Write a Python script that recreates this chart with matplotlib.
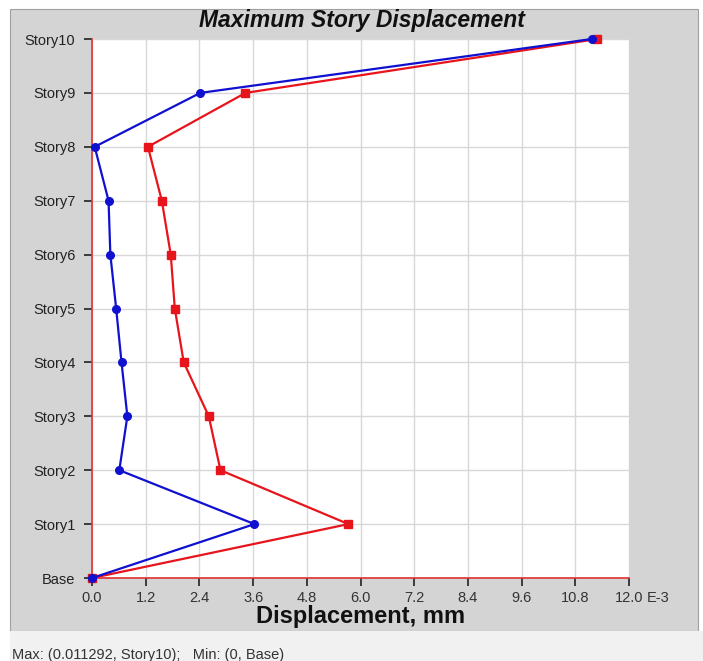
import matplotlib.pyplot as plt
from matplotlib.patches import Rectangle

plt.rcParams["font.family"] = ["Liberation Sans", "DejaVu Sans"]

# Story levels and peak displacements (values in units of 1E-3 mm)
stories = ["Base", "Story1", "Story2", "Story3", "Story4", "Story5",
           "Story6", "Story7", "Story8", "Story9", "Story10"]
disp_x = [0.0, 3.63, 0.61, 0.79, 0.66, 0.54, 0.41, 0.37, 0.06, 2.42, 11.17]
disp_y = [0.0, 5.73, 2.87, 2.61, 2.05, 1.85, 1.76, 1.56, 1.25, 3.43, 11.292]
xticks = [0.0, 1.2, 2.4, 3.6, 4.8, 6.0, 7.2, 8.4, 9.6, 10.8, 12.0]
xtick_labels = ["0.0", "1.2", "2.4", "3.6", "4.8", "6.0", "7.2", "8.4",
                "9.6", "10.8", "12.0"]
x_multiplier = "E-3"

W, H = 703, 661
fig = plt.figure(figsize=(W / 100, H / 100), dpi=100)
fig.patch.set_facecolor("white")

# grey chart panel and light status bar underneath
fig.patches.append(Rectangle((10 / W, 1 - 631 / H), 688 / W, 622 / H,
                             transform=fig.transFigure, facecolor="#d4d4d4",
                             edgecolor="#a0a0a0", lw=0.8, zorder=-10))
fig.patches.append(Rectangle((10 / W, 0), 693 / W, 1 - 631 / H,
                             transform=fig.transFigure, facecolor="#f1f1f1",
                             edgecolor="none", zorder=-10))

ax = fig.add_axes([92 / W, 1 - 578 / H, (629 - 92) / W, (578 - 39) / H])
ax.set_facecolor("white")

y = list(range(len(stories)))
ax.plot(disp_y, y, color="#e8141c", lw=1.6, marker="s", ms=5.5,
        clip_on=False, zorder=3)
ax.plot(disp_x, y, color="#1010d0", lw=1.6, marker="o", ms=5.5,
        clip_on=False, zorder=4)

ax.set_xlim(0, 12.0)
ax.set_ylim(0, 10)
ax.set_xticks(xticks)
ax.set_xticklabels(xtick_labels, fontsize=10.5, color="#333333")
ax.set_yticks(y)
ax.set_yticklabels(stories, fontsize=10.5, color="#222222")
ax.tick_params(axis="both", direction="out", length=6, width=1.2,
               color="#222222")
ax.tick_params(axis="x", pad=3)
ax.tick_params(axis="y", pad=6)
ax.grid(True, color="#d8d8d8", lw=1)
ax.set_axisbelow(True)

# exponent written right after the last tick label
ax.annotate(x_multiplier, xy=(xticks[-1], 0), xycoords="data",
            xytext=(13, -9.5), textcoords="offset points", ha="left",
            va="top", fontsize=10.5, color="#333333", annotation_clip=False)

for side in ["top", "right"]:
    ax.spines[side].set_visible(False)
for side in ["left", "bottom"]:
    ax.spines[side].set_color("#e03030")
    ax.spines[side].set_linewidth(1.2)

fig.text(362 / W, 1 - 21 / H, "Maximum Story Displacement", ha="center",
         va="center", fontsize=16.5, fontweight="bold", style="italic",
         color="#111111")
ax.set_xlabel("Displacement, mm", fontsize=17, fontweight="bold",
              color="#111111", labelpad=0)

fig.text(12 / W, 1 - 655 / H, "Max: (0.011292, Story10);   Min: (0, Base)",
         ha="left", va="center", fontsize=10.5, color="#333333")

fig.savefig("out.png", dpi=100)
